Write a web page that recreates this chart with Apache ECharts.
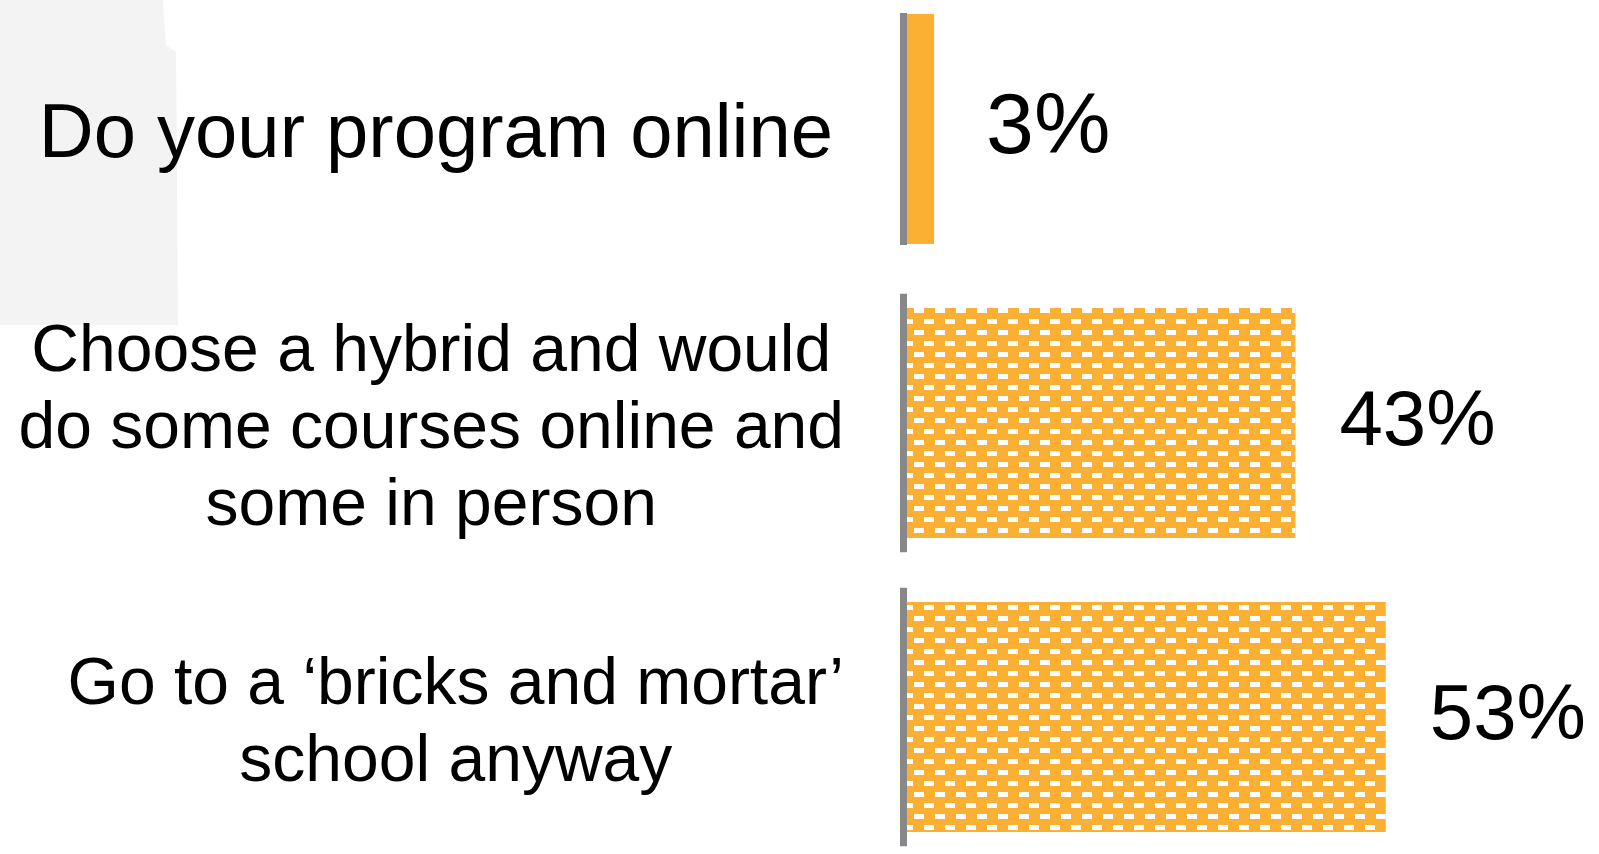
<!DOCTYPE html>
<html>
<head>
<meta charset="utf-8">
<script src="https://cdn.jsdelivr.net/npm/echarts@6/dist/echarts.min.js"></script>
<style>
html,body{margin:0;padding:0;background:#fff;}
#main{width:1599px;height:854px;}
</style>
</head>
<body>
<div id="main"></div>
<script>
// 数据
var categories = [
	'Do your program online',
	'Choose a hybrid and would\ndo some courses online and\nsome in person',
	'Go to a \u2018bricks and mortar\u2019\nschool anyway'
];
var values = [3, 43, 53];

var FONT = '"Liberation Sans", Arial, sans-serif';
var BAR_W = 230;

// 砖块花纹
var brick = {
	symbol: 'rect',
	symbolSize: 1,
	symbolKeepAspect: false,
	color: '#ffffff',
	dashArrayX: [[10, 11], [0, 11, 10, 0]],
	dashArrayY: [5, 6],
	rotation: 0
};

var chart = echarts.init(document.getElementById('main'));
var option = {
	backgroundColor: '#ffffff',
	animation: false,
	graphic: [{
		type: 'polygon',
		shape: {points: [[0, 0], [163, 0], [166, 45], [176, 52], [178, 325], [0, 325]]},
		style: {fill: '#f3f3f3'},
		z: -10,
		silent: true
	}],
	grid: {
		left: 907,
		right: 150,
		top: -18,
		bottom: -10,
		containLabel: false,
		outerBoundsMode: 'none'
	},
	xAxis: {
		type: 'value',
		min: 0,
		max: 60,
		show: false
	},
	yAxis: {
		type: 'category',
		inverse: true,
		data: categories,
		axisLine: {show: false},
		axisTick: {show: false},
		splitLine: {show: false},
		axisLabel: {
			margin: 63,
			padding: [14, 0, 0, 0],
			color: '#000',
			fontFamily: FONT,
			fontSize: 66,
			lineHeight: 77,
			formatter: function(v, i){
				return (i === 0 ? '{big|' : '{c|') + v + '}';
			},
			rich: {
				big: {
					color: '#000',
					fontFamily: FONT,
					fontSize: 76,
					lineHeight: 77,
					padding: [0, 11, 0, 0]
				},
				c: {
					align: 'center',
					color: '#000',
					fontFamily: FONT,
					fontSize: 66,
					lineHeight: 77
				}
			}
		}
	},
	series: [{
		type: 'bar',
		barWidth: BAR_W,
		itemStyle: {color: '#FBB034'},
		label: {
			show: true,
			position: 'right',
			distance: 44,
			color: '#000',
			fontFamily: FONT,
			fontSize: 78,
			formatter: '{c}%'
		},
		data: values.map(function(v, i){
			if(i === 0){
				return {value: v, label: {fontSize: 86, distance: 52}};
			}
			return {value: v, itemStyle: {decal: brick}};
		}),
		z: 2
	},{//坐标轴竖线
		type: 'custom',
		silent: true,
		clip: false,
		encode: {x: 0, y: 1},
		data: categories.map(function(c, i){
			return [0, i];
		}),
		renderItem: function(params, api){
			var idx = api.value(1);
			var p = api.coord([0, idx]);
			var band = api.size([0, 1])[1];
			var h = idx === 0 ? BAR_W + 2 : band * 0.88;
			return {
				type: 'rect',
				shape: {x: p[0] - 7, y: p[1] - h / 2, width: 7, height: h},
				style: {fill: '#888888'}
			};
		},
		z: 3
	}]
};
chart.setOption(option);
</script>
</body>
</html>
